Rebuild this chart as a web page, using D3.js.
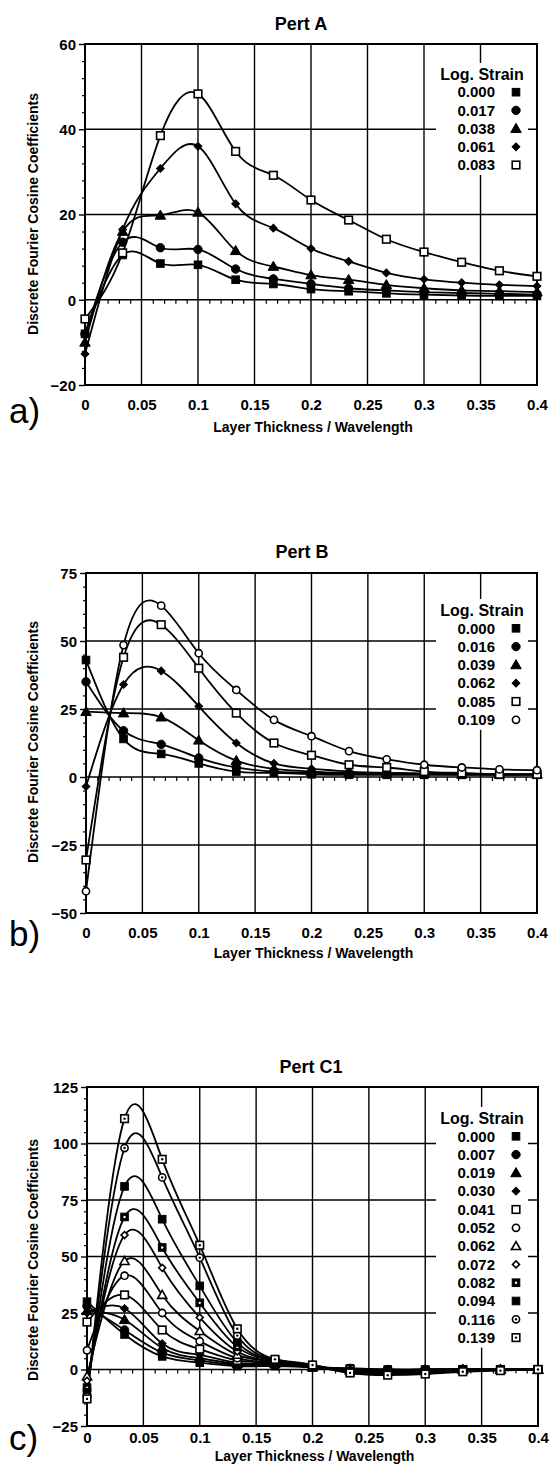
<!DOCTYPE html>
<html>
<head>
<meta charset="utf-8">
<script src="https://d3js.org/d3.v7.min.js"></script>
<style>
  body { margin: 0; background: #fff; }
  svg text { font-family: "Liberation Sans", Arial, Helvetica, sans-serif; fill: #000; }
</style>
</head>
<body>
<script>
// layer thickness / wavelength sample positions (shared by all panels)
const xValues = [0, 0.0333, 0.0667, 0.1, 0.1333, 0.1667, 0.2, 0.2333, 0.2667, 0.3, 0.3333, 0.3667, 0.4];
const xTicks = [0, 0.05, 0.1, 0.15, 0.2, 0.25, 0.3, 0.35, 0.4];
const xMinorTicks = [0.01, 0.02, 0.03, 0.04, 0.06, 0.07, 0.08, 0.09, 0.11, 0.12, 0.13, 0.14, 0.16, 0.17, 0.18, 0.19,
                     0.21, 0.22, 0.23, 0.24, 0.26, 0.27, 0.28, 0.29, 0.31, 0.32, 0.33, 0.34, 0.36, 0.37, 0.38, 0.39];

// Pert A
const strainsA = ["0.000", "0.017", "0.038", "0.061", "0.083"];
const markersA = ["sqF", "cirF", "triF", "diaF", "sqO"];
const valuesA = [
  [-8, 10.5, 8.5, 8.2, 4.7, 3.7, 2.5, 2, 1.5, 1.2, 1, 0.9, 0.9],
  [-8, 13.5, 12.2, 11.8, 7.2, 4.9, 3.7, 2.7, 2.2, 1.8, 1.6, 1.4, 1.2],
  [-10, 16, 19.8, 20.5, 11.5, 7.8, 5.8, 4.7, 3.5, 2.7, 2.2, 2, 1.8],
  [-12.7, 16.5, 30.8, 36, 22.5, 16.8, 12, 9, 6.3, 4.8, 4, 3.5, 3.2],
  [-4.5, 11, 38.5, 48.3, 34.8, 29.2, 23.4, 18.7, 14.2, 11.2, 8.8, 6.8, 5.5]
];
const yTicksA = [-20, 0, 20, 40, 60];
const yMinorA = [-16, -12, -8, -4, 4, 8, 12, 16, 24, 28, 32, 36, 44, 48, 52, 56];

// Pert B
const strainsB = ["0.000", "0.016", "0.039", "0.062", "0.085", "0.109"];
const markersB = ["sqF", "cirF", "triF", "diaF", "sqO", "cirO"];
const valuesB = [
  [43, 14, 8.5, 5, 2, 1.5, 1, 0.8, 0.8, 0.8, 0.8, 0.8, 0.8],
  [35, 17, 12, 7, 3.5, 2, 1.5, 1.2, 1, 1, 1, 1, 1],
  [24, 23.5, 22, 13.5, 6, 3, 2, 1.5, 1.5, 1.2, 1, 1, 1],
  [-3.5, 34, 39, 26, 12.5, 5, 3, 2, 1.5, 1.2, 1, 1, 1],
  [-30.5, 44, 56, 40, 23.5, 12.5, 8, 4.5, 3.5, 2, 1.5, 1, 1],
  [-42, 48.5, 63, 45.5, 32, 21, 15, 9.5, 6.5, 4.5, 3.5, 2.8, 2.5]
];
const yTicksB = [-50, -25, 0, 25, 50, 75];
const yMinorB = [-45, -40, -35, -30, -20, -15, -10, -5, 5, 10, 15, 20, 30, 35, 40, 45, 55, 60, 65, 70];

// Pert C1
const strainsC = ["0.000", "0.007", "0.019", "0.030", "0.041", "0.052", "0.062", "0.072", "0.082", "0.094", "0.116", "0.139"];
const markersC = ["sqF", "cirF", "triF", "diaF", "sqO", "cirO", "triO", "diaO", "sqFdot", "sqF", "cirOdot", "sqOdot"];
const valuesC = [
  [30, 15.5, 5.8, 3, 1.5, 1.5, 1, 0.5, 0, 0, 0, 0, 0],
  [28, 17.5, 7.5, 4, 2, 2, 1, 0.5, 0, 0, 0, 0, 0],
  [26, 22, 9.5, 5, 2.5, 2.5, 1, 0, -0.5, 0, 0, 0, 0],
  [25, 27, 11.5, 6.5, 3, 2.5, 1, 0, -0.5, 0, 0, 0, 0],
  [21, 33, 17.5, 9, 4, 3, 1, 0, -1, -0.5, 0, 0, 0],
  [8.5, 41.5, 25, 12.5, 5, 3, 1, -0.5, -1, -0.5, 0, 0, 0],
  [-3, 48, 33, 17, 6.5, 3.5, 1.5, -0.5, -1, -0.5, 0, 0, 0],
  [-5, 59.5, 45, 23, 8, 3.5, 1.5, -1, -1.5, -1, -0.5, 0, 0],
  [-8, 67.5, 54, 29.5, 10, 4, 1.5, -1, -1.5, -1, -0.5, 0, 0],
  [-10, 81, 66.5, 37, 12, 4, 1.5, -1.5, -2, -1.5, -0.5, 0, 0],
  [-12, 98, 85, 49.5, 15, 4.5, 2, -1.5, -2, -1.5, -0.5, 0, 0],
  [-13, 111, 93, 55, 18, 4.5, 2, -1.5, -2.5, -2, -1, -0.5, 0]
];
const yTicksC = [-25, 0, 25, 50, 75, 100, 125];
const yMinorC = [-20, -15, -10, -5, 5, 10, 15, 20, 30, 35, 40, 45, 55, 60, 65, 70, 80, 85, 90, 95, 105, 110, 115, 120];

const W = 554, H = 1475;
const svg = d3.select("body").append("svg").attr("width", W).attr("height", H);

const panels = [
  { title: "Pert A", tag: "a)", strains: strainsA, markers: markersA, values: valuesA,
    yTicks: yTicksA, yMinor: yMinorA, yDomain: [-20, 60],
    left: 85, right: 537, top: 44, bottom: 385,
    titleX: 301, titleY: 30, tickY: 410, xTitleY: 432, tagY: 423, yTitleY: 214,
    legendTop: 74, legendStep: 18.2 },
  { title: "Pert B", tag: "b)", strains: strainsB, markers: markersB, values: valuesB,
    yTicks: yTicksB, yMinor: yMinorB, yDomain: [-50, 75],
    left: 86, right: 537, top: 573, bottom: 913,
    titleX: 302, titleY: 558, tickY: 938, xTitleY: 958, tagY: 946, yTitleY: 742,
    legendTop: 610, legendStep: 18.3 },
  { title: "Pert C1", tag: "c)", strains: strainsC, markers: markersC, values: valuesC,
    yTicks: yTicksC, yMinor: yMinorC, yDomain: [-25, 125],
    left: 87, right: 538, top: 1087, bottom: 1426,
    titleX: 311, titleY: 1073, tickY: 1443, xTitleY: 1461, tagY: 1450, yTitleY: 1260,
    legendTop: 1118, legendStep: 18.3 }
];

function drawMarker(g, type, cx, cy) {
  const filled = type.indexOf("F") > 0;
  const fill = filled ? "#000" : "#fff";
  let m;
  if (type.startsWith("sq")) {
    m = g.append("rect").attr("x", cx - 3.8).attr("y", cy - 3.8).attr("width", 7.6).attr("height", 7.6);
  } else if (type.startsWith("cir")) {
    m = g.append("circle").attr("cx", cx).attr("cy", cy).attr("r", filled ? 4.2 : 3.6);
  } else if (type.startsWith("tri")) {
    m = g.append("path").attr("d", d3.symbol(d3.symbolTriangle, filled ? 48 : 36)())
      .attr("transform", `translate(${cx},${cy + 0.8})`);
  } else {
    m = g.append("path").attr("d", d3.symbol(d3.symbolSquare, filled ? 30 : 24)())
      .attr("transform", `translate(${cx},${cy}) rotate(45)`);
  }
  m.attr("fill", fill).attr("stroke", "#000").attr("stroke-width", filled ? 1 : 1.6);
  if (type.endsWith("dot")) {
    g.append("circle").attr("cx", cx).attr("cy", cy).attr("r", 1.2)
      .attr("fill", filled ? "#fff" : "#000");
  }
}

function drawPanel(p) {
  const x = d3.scaleLinear().domain([0, 0.4]).range([p.left, p.right]);
  const y = d3.scaleLinear().domain(p.yDomain).range([p.bottom, p.top]);
  const g = svg.append("g");

  // grid
  g.append("g").selectAll("line").data(xTicks).join("line")
    .attr("x1", d => x(d)).attr("x2", d => x(d))
    .attr("y1", p.top).attr("y2", p.bottom)
    .attr("stroke", "#000").attr("stroke-width", 1.4);
  g.append("g").selectAll("line").data(p.yTicks).join("line")
    .attr("x1", p.left).attr("x2", p.right)
    .attr("y1", d => y(d)).attr("y2", d => y(d))
    .attr("stroke", "#000").attr("stroke-width", 1.4);

  // minor ticks hanging below the zero line
  const zeroAxis = g.append("g").attr("transform", `translate(0,${y(0)})`)
    .call(d3.axisBottom(x).tickValues(xMinorTicks).tickSize(4).tickFormat(""));
  zeroAxis.select(".domain").remove();
  zeroAxis.selectAll("line").attr("stroke-width", 1.2);

  // left axis: major + minor ticks
  const yAxis = g.append("g").attr("transform", `translate(${p.left},0)`)
    .call(d3.axisLeft(y).tickValues(p.yTicks).tickSize(6).tickPadding(3).tickFormat(d3.format("d")));
  yAxis.select(".domain").remove();
  yAxis.selectAll("line").attr("stroke-width", 1.4);
  yAxis.selectAll("text").attr("font-size", 15).attr("font-weight", "bold").attr("dy", "0.35em");
  const yMinorAxis = g.append("g").attr("transform", `translate(${p.left},0)`)
    .call(d3.axisLeft(y).tickValues(p.yMinor).tickSize(3).tickFormat(""));
  yMinorAxis.select(".domain").remove();
  yMinorAxis.selectAll("line").attr("stroke-width", 1.2);

  // bottom tick labels
  const xAxis = g.append("g").attr("transform", `translate(0,${p.bottom})`)
    .call(d3.axisBottom(x).tickValues(xTicks).tickSize(0).tickPadding(0).tickFormat(d3.format("~g")));
  xAxis.select(".domain").remove();
  xAxis.selectAll("text").attr("font-size", 15).attr("font-weight", "bold")
    .attr("y", p.tickY - p.bottom).attr("dy", 0);

  // frame
  g.append("rect").attr("x", p.left).attr("y", p.top)
    .attr("width", p.right - p.left).attr("height", p.bottom - p.top)
    .attr("fill", "none").attr("stroke", "#000").attr("stroke-width", 2);

  // curves
  const line = d3.line().x((d, i) => x(xValues[i])).y(d => y(d)).curve(d3.curveNatural);
  g.append("g").selectAll("path").data(p.values).join("path")
    .attr("d", line).attr("fill", "none").attr("stroke", "#000").attr("stroke-width", 1.8);

  // markers
  const mg = g.append("g");
  p.values.forEach((s, k) => {
    s.forEach((v, i) => drawMarker(mg, p.markers[k], x(xValues[i]), y(v)));
  });

  // legend
  const lg = g.append("g");
  const n = p.strains.length;
  lg.append("rect").attr("x", 436).attr("y", p.legendTop - 11)
    .attr("width", 92).attr("height", p.legendStep * n + 21).attr("fill", "#fff");
  lg.append("text").attr("x", 482).attr("y", p.legendTop).attr("dy", "0.35em")
    .attr("text-anchor", "middle").attr("font-size", 16).attr("font-weight", "bold")
    .text("Log. Strain");
  p.strains.forEach((s, k) => {
    const ry = p.legendTop + p.legendStep * (k + 1);
    lg.append("text").attr("x", 495).attr("y", ry).attr("dy", "0.35em")
      .attr("text-anchor", "end").attr("font-size", 15).attr("font-weight", "bold").text(s);
    drawMarker(lg, p.markers[k], 516, ry);
  });

  // titles
  g.append("text").attr("x", p.titleX).attr("y", p.titleY).attr("text-anchor", "middle")
    .attr("font-size", 18).attr("font-weight", "bold").text(p.title);
  g.append("text").attr("x", (p.left + p.right) / 2 + 2).attr("y", p.xTitleY).attr("text-anchor", "middle")
    .attr("font-size", 14).attr("font-weight", "bold").text("Layer Thickness / Wavelength");
  g.append("text").attr("transform", `translate(38,${p.yTitleY}) rotate(-90)`)
    .attr("text-anchor", "middle").attr("font-size", 14).attr("font-weight", "bold")
    .text("Discrete Fourier Cosine Coefficients");
  g.append("text").attr("x", 9).attr("y", p.tagY).attr("font-size", 35).text(p.tag);
}

panels.forEach(drawPanel);
</script>
</body>
</html>
